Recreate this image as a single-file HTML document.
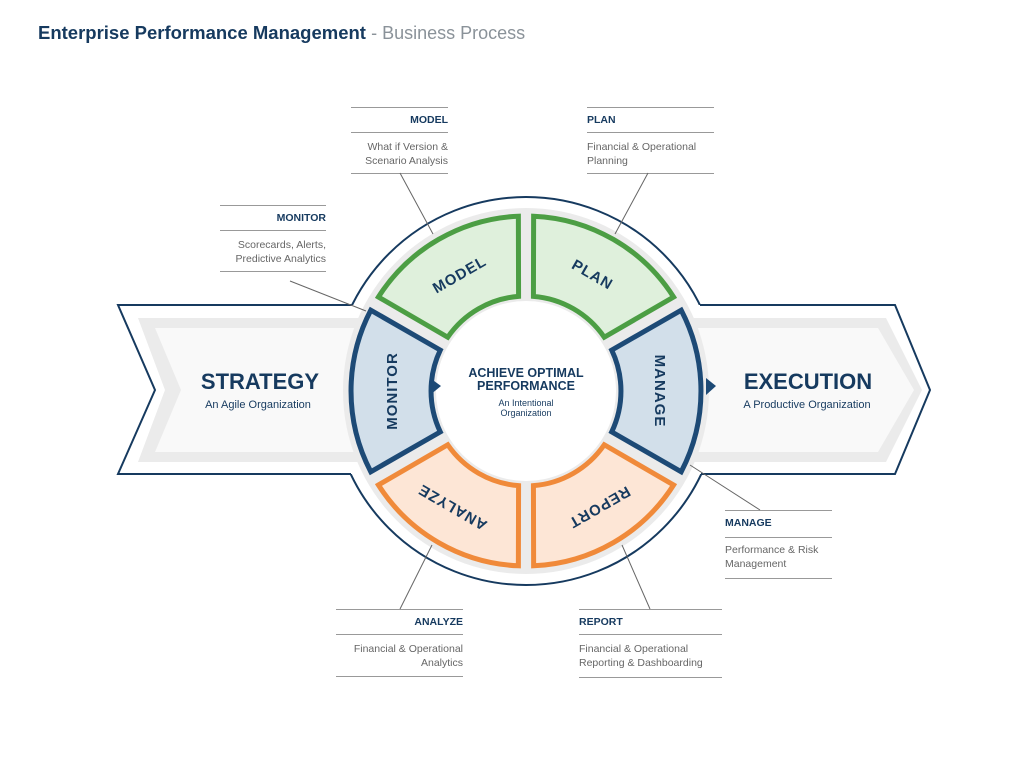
<!DOCTYPE html>
<html><head><meta charset="utf-8"><style>
html,body{margin:0;padding:0;background:#fff;}
svg{display:block;font-family:"Liberation Sans",sans-serif;}
</style></head><body>
<svg width="1024" height="768" viewBox="0 0 1024 768" xmlns="http://www.w3.org/2000/svg">
<defs>
<path id="seg" d="M445.2,235.8 A175,175 0 0 1 606.8,235.8 L566.9,305.3 A95,95 0 0 0 485.1,305.3 Z"/>
</defs>
<text x="38" y="39" font-size="18.5" font-weight="bold" fill="#163a5f">Enterprise Performance Management <tspan font-weight="normal" fill="#8a9299" font-size="18">  - Business Process</tspan></text>

<!-- outer circle -->
<circle cx="526" cy="391" r="194" fill="#fff" stroke="#163a5f" stroke-width="2"/>
<!-- arrows -->
<polygon points="118,305 526,305 526,474 118,474 155,390" fill="#fff"/>
<polygon points="526,305 895,305 930,390 895,474 526,474" fill="#fff"/>
<polyline points="352,305 118,305 155,390 118,474 351,474" fill="none" stroke="#163a5f" stroke-width="2"/>
<polyline points="700,305 895,305 930,390 895,474 701,474" fill="none" stroke="#163a5f" stroke-width="2"/>
<polygon points="138,318 526,318 526,462 138,462 165,390" fill="#ebebeb"/>
<polygon points="155,328 526,328 526,452 155,452 181,390" fill="#f9f9f9"/>
<polygon points="526,318 886,318 922,390 886,462 526,462" fill="#ebebeb"/>
<polygon points="526,328 878,328 914,390 878,452 526,452" fill="#f9f9f9"/>
<!-- ring -->
<circle cx="526" cy="391" r="183" fill="#ebebeb"/>
<circle cx="526" cy="391" r="90" fill="#fff"/>
<!-- segments -->
<g stroke-width="5" stroke-linejoin="miter">
<use href="#seg" transform="rotate(-30 526 391)" fill="#dff0dc" stroke="#4c9e44"/>
<use href="#seg" transform="rotate(30 526 391)" fill="#dff0dc" stroke="#4c9e44"/>
<use href="#seg" transform="rotate(90 526 391)" fill="#d2dfea" stroke="#1d4a76"/>
<use href="#seg" transform="rotate(150 526 391)" fill="#fde6d6" stroke="#f08a3a"/>
<use href="#seg" transform="rotate(210 526 391)" fill="#fde6d6" stroke="#f08a3a"/>
<use href="#seg" transform="rotate(270 526 391)" fill="#d2dfea" stroke="#1d4a76"/>
</g>
<polygon points="430,378 441,386 430,395" fill="#1d4a76"/>
<polygon points="706,378 716,386 706,395" fill="#1d4a76"/>
<!-- segment labels -->
<g font-size="15" font-weight="bold" fill="#163a5f" text-anchor="middle" letter-spacing="1">
<text transform="translate(462,279) rotate(-30)">MODEL</text>
<text transform="translate(590,279) rotate(30)">PLAN</text>
<text transform="translate(397,391) rotate(-90)">MONITOR</text>
<text transform="translate(655,391) rotate(90)">MANAGE</text>
<text transform="translate(455,503) rotate(210)">ANALYZE</text>
<text transform="translate(597,503) rotate(150)">REPORT</text>
</g>
<!-- center -->
<g fill="#163a5f" text-anchor="middle">
<text x="526" y="377" font-size="12.5" font-weight="bold">ACHIEVE OPTIMAL</text>
<text x="526" y="390" font-size="12.5" font-weight="bold">PERFORMANCE</text>
<text x="526" y="406" font-size="9">An Intentional</text>
<text x="526" y="416" font-size="9">Organization</text>
<text x="260" y="389" font-size="22" font-weight="bold">STRATEGY</text>
<text x="258" y="408" font-size="11">An Agile Organization</text>
<text x="808" y="389" font-size="22" font-weight="bold">EXECUTION</text>
<text x="807" y="408" font-size="11">A Productive Organization</text>
</g>
<!-- callouts -->
<g stroke="#999" stroke-width="1" fill="none">
<path d="M351,107.5H448M351,132.5H448M351,173.5H448"/>
<path d="M587,107.5H714M587,132.5H714M587,173.5H714"/>
<path d="M220,205.5H326M220,230.5H326M220,271.5H326"/>
<path d="M725,510.5H832M725,537.5H832M725,578.5H832"/>
<path d="M336,609.5H463M336,634.5H463M336,676.5H463"/>
<path d="M579,609.5H722M579,634.5H722M579,677.5H722"/>
<path d="M400,173L433,234M648,173L615,234M290,281L366,311M690,465L760,510M432,545L400,609M622,545L650,609" stroke="#666"/>
</g>
<g font-size="10.5" fill="#666">
<g text-anchor="end">
<text x="448" y="123" font-weight="bold" fill="#163a5f">MODEL</text>
<text x="448" y="150">What if Version &amp;</text>
<text x="448" y="164">Scenario Analysis</text>
<text x="326" y="221" font-weight="bold" fill="#163a5f">MONITOR</text>
<text x="326" y="248">Scorecards, Alerts,</text>
<text x="326" y="262">Predictive Analytics</text>
<text x="463" y="625" font-weight="bold" fill="#163a5f">ANALYZE</text>
<text x="463" y="652">Financial &amp; Operational</text>
<text x="463" y="666">Analytics</text>
</g>
<text x="587" y="123" font-weight="bold" fill="#163a5f">PLAN</text>
<text x="587" y="150">Financial &amp; Operational</text>
<text x="587" y="164">Planning</text>
<text x="725" y="526" font-weight="bold" fill="#163a5f">MANAGE</text>
<text x="725" y="553">Performance &amp; Risk</text>
<text x="725" y="567">Management</text>
<text x="579" y="625" font-weight="bold" fill="#163a5f">REPORT</text>
<text x="579" y="652">Financial &amp; Operational</text>
<text x="579" y="666">Reporting &amp; Dashboarding</text>
</g>
</svg>
</body></html>
